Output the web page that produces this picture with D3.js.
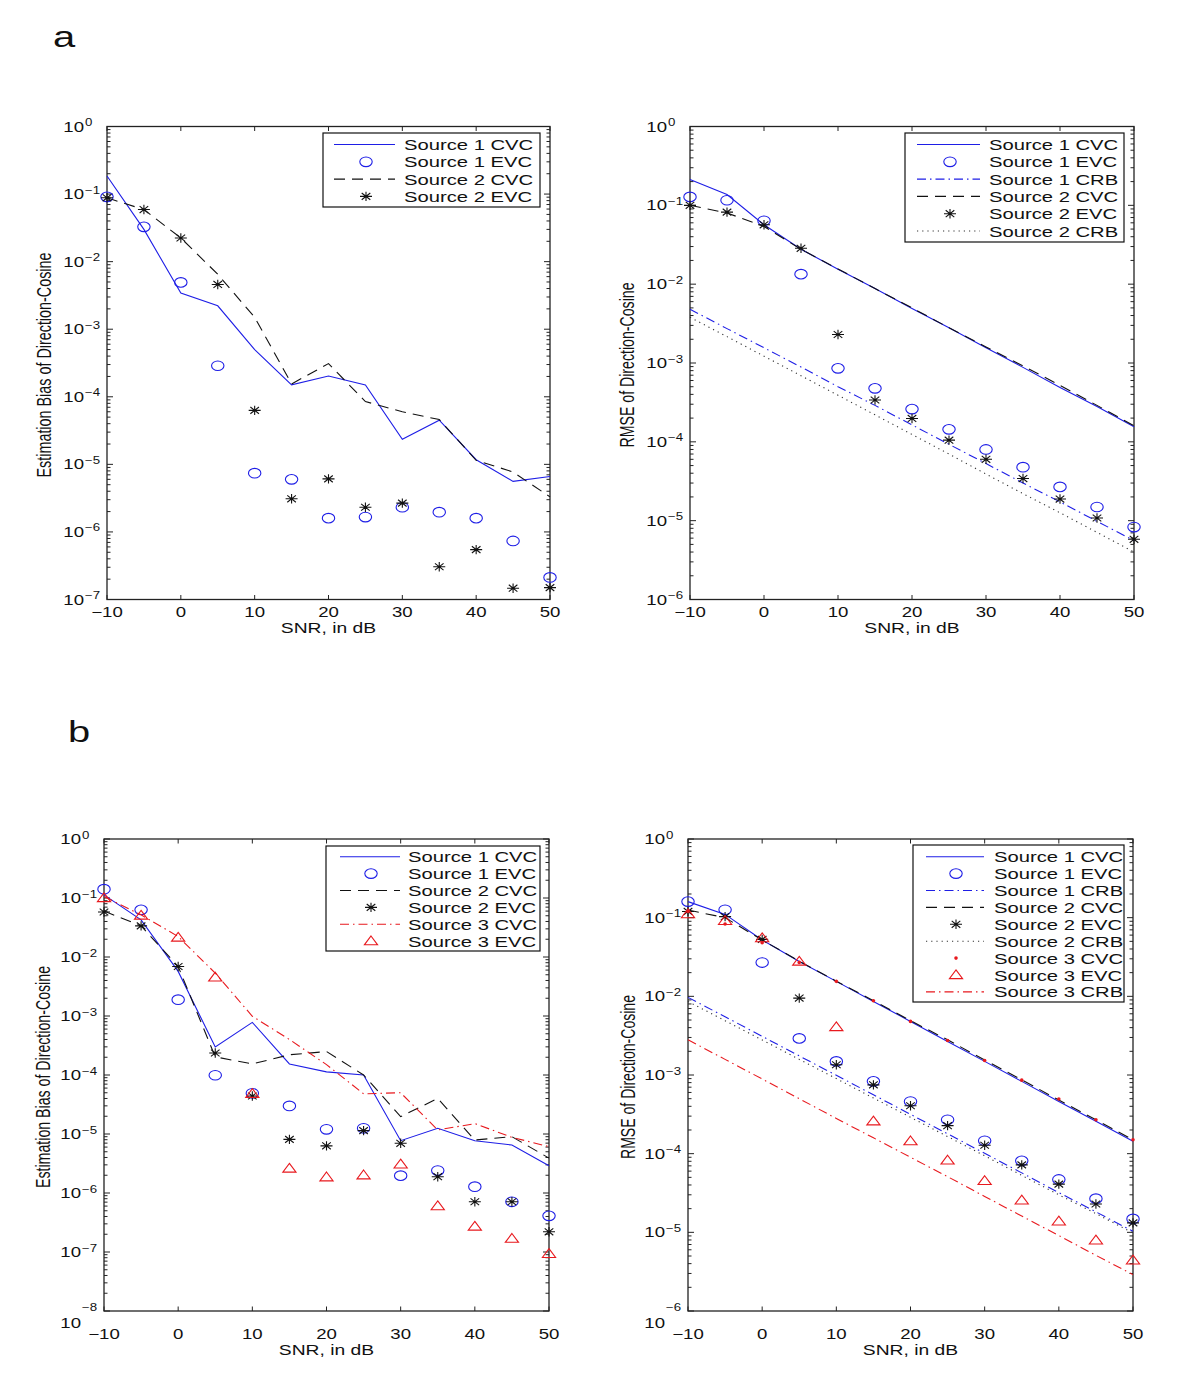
<!DOCTYPE html>
<html lang="en">
<head>
<meta charset="UTF-8">
<title>Direction-Cosine estimation vs SNR</title>
<script src="https://cdn.jsdelivr.net/npm/d3@7"></script>
<style>
    body { margin: 0; background: #fff; }
    text { font-family: "Liberation Sans", Arial, Helvetica, sans-serif; fill: #111; }
</style>
</head>
<body>
<div id="chart"></div>
<script>
// SNR values (dB) shared by every panel
var snr = [-10, -5, 0, 5, 10, 15, 20, 25, 30, 35, 40, 45, 50];
var xTicks = [-10, 0, 10, 20, 30, 40, 50];

// panel a, left: estimation bias, two sources
var aBiasS1CVC = [0.185, 0.030, 0.00343, 0.00222, 0.0005, 1.5e-4, 2.03e-4, 1.5e-4, 2.35e-5, 4.5e-5, 1.17e-5, 5.6e-6, 6.6e-6];
var aBiasS1EVC = [0.091, 0.0327, 0.00493, 2.88e-4, 7.4e-6, 6.0e-6, 1.6e-6, 1.66e-6, 2.32e-6, 1.96e-6, 1.6e-6, 7.35e-7, 2.12e-7];
var aBiasS2CVC = [0.088, 0.059, 0.0224, 0.0065, 0.0015, 1.55e-4, 3.1e-4, 8.5e-5, 6.0e-5, 4.6e-5, 1.15e-5, 7.7e-6, 3.3e-6];
var aBiasS2EVC = [0.088, 0.059, 0.0224, 0.0046, 6.3e-5, 3.09e-6, 6.1e-6, 2.32e-6, 2.67e-6, 3.05e-7, 5.47e-7, 1.47e-7, 1.5e-7];

// panel a, right: RMSE, two sources
var aRmseS1CVC = [0.213, 0.137, 0.0566, 0.0277, 0.0155, 0.0088, 0.0049, 0.0028, 0.00156, 8.8e-4, 4.9e-4, 2.8e-4, 1.55e-4];
var aRmseS1EVC = [0.128, 0.116, 0.0637, 0.0134, 8.55e-4, 4.77e-4, 2.6e-4, 1.44e-4, 8.0e-5, 4.77e-5, 2.68e-5, 1.49e-5, 8.3e-6];
var aRmseS1CRB = [4.8e-3, 2.73e-3, 1.56e-3, 8.9e-4, 5.0e-4, 2.9e-4, 1.64e-4, 9.3e-5, 5.3e-5, 3.0e-5, 1.73e-5, 9.8e-6, 5.6e-6];
var aRmseS2CVC = [0.1, 0.08, 0.054, 0.0277, 0.0156, 0.0088, 0.005, 0.0028, 0.0016, 9.2e-4, 5.2e-4, 2.9e-4, 1.6e-4];
var aRmseS2EVC = [0.1, 0.082, 0.0566, 0.0285, 0.0023, 3.39e-4, 1.98e-4, 1.05e-4, 6.0e-5, 3.42e-5, 1.88e-5, 1.08e-5, 5.8e-6];
var aRmseS2CRB = [3.8e-3, 2.16e-3, 1.22e-3, 6.9e-4, 3.9e-4, 2.2e-4, 1.24e-4, 7.0e-5, 3.9e-5, 2.2e-5, 1.26e-5, 7.1e-6, 4.0e-6];

// panel b, left: estimation bias, three sources
var bBiasS1CVC = [0.113, 0.0426, 0.0057, 2.98e-4, 7.8e-4, 1.54e-4, 1.13e-4, 1.0e-4, 7.7e-6, 1.25e-5, 7.7e-6, 6.5e-6, 2.9e-6];
var bBiasS1EVC = [0.141, 0.063, 1.89e-3, 9.9e-5, 4.9e-5, 2.99e-5, 1.2e-5, 1.25e-5, 1.97e-6, 2.4e-6, 1.28e-6, 7.1e-7, 4.1e-7];
var bBiasS2CVC = [0.06, 0.0337, 0.0069, 2.03e-4, 1.54e-4, 2.2e-4, 2.5e-4, 1.0e-4, 1.97e-5, 4.0e-5, 7.9e-6, 9.0e-6, 3.9e-6];
var bBiasS2EVC = [0.058, 0.0337, 0.0069, 2.36e-4, 4.4e-5, 8.1e-6, 6.3e-6, 1.14e-5, 6.95e-6, 1.89e-6, 7.1e-7, 7.1e-7, 2.2e-7];
var bBiasS3CVC = [0.106, 0.0518, 0.0222, 0.00533, 9.9e-4, 4.0e-4, 1.5e-4, 4.8e-5, 5.0e-5, 1.17e-5, 1.5e-5, 8.8e-6, 6.1e-6];
var bBiasS3EVC = [0.10, 0.0505, 0.0214, 4.5e-3, 4.8e-5, 2.6e-6, 1.85e-6, 2.0e-6, 3.06e-6, 6.0e-7, 2.7e-7, 1.68e-7, 9.3e-8];

// panel b, right: RMSE, three sources
var bRmseS1CVC = [0.16, 0.11, 0.052, 0.0277, 0.0155, 0.0086, 0.0048, 0.00267, 0.00149, 8.3e-4, 4.6e-4, 2.58e-4, 1.44e-4];
var bRmseS1EVC = [0.16, 0.126, 0.0269, 2.92e-3, 1.49e-3, 8.3e-4, 4.6e-4, 2.7e-4, 1.46e-4, 8.1e-5, 4.7e-5, 2.68e-5, 1.48e-5];
var bRmseS1CRB = [9.7e-3, 5.5e-3, 3.1e-3, 1.75e-3, 9.9e-4, 5.6e-4, 3.16e-4, 1.79e-4, 1.01e-4, 5.7e-5, 3.2e-5, 1.82e-5, 1.03e-5];
var bRmseS2CVC = [0.125, 0.1, 0.052, 0.028, 0.0156, 0.0088, 0.0049, 0.0028, 0.00155, 8.7e-4, 4.8e-4, 2.7e-4, 1.5e-4];
var bRmseS2EVC = [0.12, 0.103, 0.053, 9.5e-3, 1.35e-3, 7.5e-4, 4.07e-4, 2.27e-4, 1.28e-4, 7.2e-5, 4.1e-5, 2.29e-5, 1.32e-5];
var bRmseS2CRB = [8.6e-3, 4.9e-3, 2.79e-3, 1.58e-3, 9.0e-4, 5.1e-4, 2.9e-4, 1.65e-4, 9.4e-5, 5.3e-5, 3.0e-5, 1.73e-5, 9.8e-6];
var bRmseS3CVC = [0.12, 0.083, 0.048, 0.027, 0.0155, 0.00877, 0.0048, 0.00275, 0.00153, 8.6e-4, 4.95e-4, 2.7e-4, 1.5e-4];
var bRmseS3EVC = [0.111, 0.091, 0.055, 0.0277, 4.07e-3, 2.58e-4, 1.44e-4, 8.2e-5, 4.5e-5, 2.55e-5, 1.38e-5, 7.9e-6, 4.4e-6];
var bRmseS3CRB = [2.8e-3, 1.58e-3, 8.9e-4, 5.0e-4, 2.8e-4, 1.59e-4, 9.0e-5, 5.1e-5, 2.86e-5, 1.61e-5, 9.1e-6, 5.1e-6, 2.9e-6];

// the source picture is stretched sideways, so text is widened too
var SX = 1.33;
var BLUE = "#1e1ee6", RED = "#e8191e", BLACK = "#111";

// line / marker styles
var styles = {
    solidBlue:   {kind: "line", color: BLUE, dash: null},
    dashBlack:   {kind: "line", color: BLACK, dash: "11,7"},
    dotBlack:    {kind: "line", color: "#333", dash: "1.2,4"},
    dashdotBlue: {kind: "line", color: BLUE, dash: "9,4,1.5,4"},
    dashdotRed:  {kind: "line", color: RED, dash: "9,4,1.5,4"},
    circleBlue:  {kind: "circle", color: BLUE},
    starBlack:   {kind: "star", color: BLACK},
    triRed:      {kind: "tri", color: RED},
    dotRed:      {kind: "dot", color: RED}
};

var panels = [
    {
        box: {l: 107, r: 550, t: 126.5, b: 599.5}, yDomain: [1e-7, 1],
        ylabel: "Estimation Bias of Direction-Cosine", ylx: 51, yllen: 225,
        xtickY: 617, xlabY: 633, splitBottom: false,
        legend: {l: 323, r: 540, t: 133, b: 207, lx0: 334, lx1: 395, mx: 366, tx: 404, y0: 144.5, dy: 17.3},
        series: [
            {name: "Source 1 CVC", values: aBiasS1CVC, style: "solidBlue"},
            {name: "Source 1 EVC", values: aBiasS1EVC, style: "circleBlue"},
            {name: "Source 2 CVC", values: aBiasS2CVC, style: "dashBlack"},
            {name: "Source 2 EVC", values: aBiasS2EVC, style: "starBlack"}
        ]
    },
    {
        box: {l: 690, r: 1134, t: 126.5, b: 599.5}, yDomain: [1e-6, 1],
        ylabel: "RMSE of Direction-Cosine", ylx: 634, yllen: 165,
        xtickY: 617, xlabY: 633, splitBottom: false,
        legend: {l: 905, r: 1124, t: 133, b: 242, lx0: 917, lx1: 980, mx: 950, tx: 989, y0: 144.5, dy: 17.3},
        series: [
            {name: "Source 1 CVC", values: aRmseS1CVC, style: "solidBlue"},
            {name: "Source 1 EVC", values: aRmseS1EVC, style: "circleBlue"},
            {name: "Source 1 CRB", values: aRmseS1CRB, style: "dashdotBlue"},
            {name: "Source 2 CVC", values: aRmseS2CVC, style: "dashBlack"},
            {name: "Source 2 EVC", values: aRmseS2EVC, style: "starBlack"},
            {name: "Source 2 CRB", values: aRmseS2CRB, style: "dotBlack"}
        ]
    },
    {
        box: {l: 104, r: 549, t: 839, b: 1311}, yDomain: [1e-8, 1],
        ylabel: "Estimation Bias of Direction-Cosine", ylx: 50, yllen: 222,
        xtickY: 1339, xlabY: 1355, splitBottom: true,
        legend: {l: 326, r: 540, t: 846, b: 951, lx0: 340, lx1: 400, mx: 371, tx: 408, y0: 856.7, dy: 16.9},
        series: [
            {name: "Source 1 CVC", values: bBiasS1CVC, style: "solidBlue"},
            {name: "Source 1 EVC", values: bBiasS1EVC, style: "circleBlue"},
            {name: "Source 2 CVC", values: bBiasS2CVC, style: "dashBlack"},
            {name: "Source 2 EVC", values: bBiasS2EVC, style: "starBlack"},
            {name: "Source 3 CVC", values: bBiasS3CVC, style: "dashdotRed"},
            {name: "Source 3 EVC", values: bBiasS3EVC, style: "triRed"}
        ]
    },
    {
        box: {l: 688, r: 1133, t: 839, b: 1311}, yDomain: [1e-6, 1],
        ylabel: "RMSE of Direction-Cosine", ylx: 635, yllen: 164,
        xtickY: 1339, xlabY: 1355, splitBottom: true,
        legend: {l: 913, r: 1124, t: 845, b: 1002, lx0: 926, lx1: 984, mx: 956, tx: 994, y0: 856.7, dy: 16.9},
        series: [
            {name: "Source 1 CVC", values: bRmseS1CVC, style: "solidBlue"},
            {name: "Source 1 EVC", values: bRmseS1EVC, style: "circleBlue"},
            {name: "Source 1 CRB", values: bRmseS1CRB, style: "dashdotBlue"},
            {name: "Source 2 CVC", values: bRmseS2CVC, style: "dashBlack"},
            {name: "Source 2 EVC", values: bRmseS2EVC, style: "starBlack"},
            {name: "Source 2 CRB", values: bRmseS2CRB, style: "dotBlack"},
            {name: "Source 3 CVC", values: bRmseS3CVC, style: "dotRed"},
            {name: "Source 3 EVC", values: bRmseS3EVC, style: "triRed"},
            {name: "Source 3 CRB", values: bRmseS3CRB, style: "dashdotRed"}
        ]
    }
];

var svg = d3.select("#chart").append("svg")
    .attr("width", 1200)
    .attr("height", 1391);

// widened text, anchored at (x, y)
function wideText(g, x, y, str, size, anchor) {
    return g.append("text")
        .attr("transform", "translate(" + x + "," + y + ") scale(" + SX + ",1)")
        .attr("text-anchor", anchor || "start")
        .style("font-size", size + "px")
        .text(str);
}

function drawMarker(g, kind, color, cx, cy) {
    if (kind === "circle") {
        g.append("ellipse").attr("cx", cx).attr("cy", cy).attr("rx", 6.2).attr("ry", 4.8)
            .attr("fill", "none").attr("stroke", color).attr("stroke-width", 1.1);
    } else if (kind === "star") {
        var p = "M" + (cx - 6) + "," + cy + "H" + (cx + 6) +
            "M" + cx + "," + (cy - 4.7) + "V" + (cy + 4.7) +
            "M" + (cx - 4.3) + "," + (cy - 3.4) + "L" + (cx + 4.3) + "," + (cy + 3.4) +
            "M" + (cx - 4.3) + "," + (cy + 3.4) + "L" + (cx + 4.3) + "," + (cy - 3.4);
        g.append("path").attr("d", p).attr("stroke", color).attr("stroke-width", 1.1).attr("fill", "none");
    } else if (kind === "tri") {
        var t = "M" + cx + "," + (cy - 5.2) + "L" + (cx + 6.6) + "," + (cy + 3.6) +
            "L" + (cx - 6.6) + "," + (cy + 3.6) + "Z";
        g.append("path").attr("d", t).attr("stroke", color).attr("stroke-width", 1.1).attr("fill", "none");
    } else if (kind === "dot") {
        g.append("circle").attr("cx", cx).attr("cy", cy).attr("r", 1.8).attr("fill", color);
    }
}

panels.forEach(function(P) {
    var g = svg.append("g");
    var B = P.box;

    var x = d3.scaleLinear().domain([-10, 50]).range([B.l, B.r]);
    var y = d3.scaleLog().domain(P.yDomain).range([B.b, B.t]);

    var eMin = Math.round(Math.log10(P.yDomain[0])),
        eMax = Math.round(Math.log10(P.yDomain[1]));
    var decades = d3.range(eMin, eMax + 1);
    var minors = [];
    decades.slice(0, -1).forEach(function(e) {
        d3.range(2, 10).forEach(function(k) { minors.push(k * Math.pow(10, e)); });
    });

    // ticks (inward, on all four sides)
    var ticks = g.append("g").attr("stroke", "#222").attr("stroke-width", 1);
    xTicks.forEach(function(v) {
        ticks.append("line").attr("x1", x(v)).attr("x2", x(v)).attr("y1", B.b).attr("y2", B.b - 4.5);
        ticks.append("line").attr("x1", x(v)).attr("x2", x(v)).attr("y1", B.t).attr("y2", B.t + 4.5);
    });
    decades.forEach(function(e) {
        var yy = y(Math.pow(10, e));
        ticks.append("line").attr("x1", B.l).attr("x2", B.l + 6).attr("y1", yy).attr("y2", yy);
        ticks.append("line").attr("x1", B.r).attr("x2", B.r - 6).attr("y1", yy).attr("y2", yy);
    });
    minors.forEach(function(v) {
        var yy = y(v);
        ticks.append("line").attr("x1", B.l).attr("x2", B.l + 3.5).attr("y1", yy).attr("y2", yy);
        ticks.append("line").attr("x1", B.r).attr("x2", B.r - 3.5).attr("y1", yy).attr("y2", yy);
    });

    // box
    g.append("rect")
        .attr("x", B.l).attr("y", B.t)
        .attr("width", B.r - B.l).attr("height", B.b - B.t)
        .attr("fill", "none").attr("stroke", "#222").attr("stroke-width", 1.3);

    // x tick labels
    xTicks.forEach(function(v) {
        wideText(g, x(v), P.xtickY, v < 0 ? "\u2212" + Math.abs(v) : String(v), 14, "middle");
    });
    wideText(g, (B.l + B.r) / 2, P.xlabY, "SNR, in dB", 14.5, "middle");

    // y tick labels: 10 with superscript exponent
    decades.forEach(function(e) {
        var yy = y(Math.pow(10, e));
        var expStr = e < 0 ? "\u2212" + Math.abs(e) : String(e);
        var baseY = yy + 5;
        if (P.splitBottom && e === eMin) baseY = yy + 17;
        wideText(g, B.l - 23, baseY, "10", 14, "end");
        wideText(g, B.l - 22, yy - 0.5, expStr, 10, "start");
    });

    // y axis label
    g.append("text")
        .attr("transform", "translate(" + P.ylx + "," + ((B.t + B.b) / 2 + 2) + ") scale(1.45,1) rotate(-90)")
        .attr("text-anchor", "middle")
        .attr("textLength", P.yllen)
        .attr("lengthAdjust", "spacingAndGlyphs")
        .style("font-size", "14px")
        .text(P.ylabel);

    // series
    var line = d3.line()
        .x(function(d) { return x(d[0]); })
        .y(function(d) { return y(d[1]); });

    P.series.forEach(function(s) {
        var st = styles[s.style];
        var pts = snr.map(function(v, i) { return [v, s.values[i]]; });
        if (st.kind === "line") {
            g.append("path")
                .datum(pts)
                .attr("d", line)
                .attr("fill", "none")
                .attr("stroke", st.color)
                .attr("stroke-width", 1.1)
                .attr("stroke-dasharray", st.dash);
        } else {
            pts.forEach(function(d) { drawMarker(g, st.kind, st.color, x(d[0]), y(d[1])); });
        }
    });

    // legend
    var L = P.legend;
    var lg = g.append("g");
    lg.append("rect")
        .attr("x", L.l).attr("y", L.t)
        .attr("width", L.r - L.l).attr("height", L.b - L.t)
        .attr("fill", "#fff").attr("stroke", "#111").attr("stroke-width", 1.2);
    P.series.forEach(function(s, i) {
        var st = styles[s.style];
        var ry = L.y0 + i * L.dy;
        if (st.kind === "line") {
            lg.append("line")
                .attr("x1", L.lx0).attr("x2", L.lx1).attr("y1", ry).attr("y2", ry)
                .attr("stroke", st.color).attr("stroke-width", 1.1)
                .attr("stroke-dasharray", st.dash);
        } else {
            drawMarker(lg, st.kind, st.color, L.mx, ry);
        }
        wideText(lg, L.tx, ry + 5.5, s.name, 15.2, "start");
    });
});

// panel letters
wideText(svg, 64, 47, "a", 30, "middle");
wideText(svg, 79, 742, "b", 30, "middle");
</script>
</body>
</html>
